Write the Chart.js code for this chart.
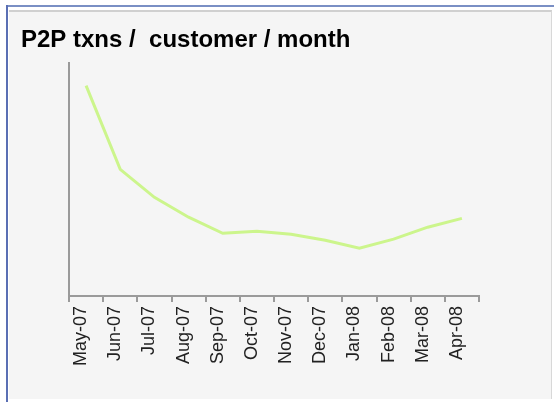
<!DOCTYPE html>
<html>
<head>
<meta charset="utf-8">
<script src="https://cdn.jsdelivr.net/npm/chart.js@4"></script>
<style>
  html, body { margin: 0; padding: 0; background: #ffffff; }
  #wrap { position: relative; width: 554px; height: 402px; overflow: hidden; }
  #blueTop { position: absolute; left: 6px; top: 5px; width: 548px; height: 2px; background: #7a8fc4; }
  #blueLeft { position: absolute; left: 6px; top: 5px; width: 2px; height: 397px; background: #5a6fb4; }
  #panel { position: absolute; left: 9px; top: 10px; width: 543px; height: 389px; background: #f5f5f5;
           border-top: 2px solid #d0d0d0; border-right: 1px solid #d8d8d8; box-sizing: border-box; }
  #c { position: absolute; left: 0; top: 0; }
</style>
</head>
<body>
<div id="wrap">
  <div id="panel"></div>
  <div id="blueTop"></div>
  <div id="blueLeft"></div>
  <canvas id="c" width="554" height="402"></canvas>
</div>
<script>
const categories = ["May-07","Jun-07","Jul-07","Aug-07","Sep-07","Oct-07","Nov-07","Dec-07","Jan-08","Feb-08","Mar-08","Apr-08"];
const txnsPerCustomer = [9.02, 5.43, 4.23, 3.38, 2.69, 2.78, 2.65, 2.39, 2.05, 2.44, 2.95, 3.33];
const chartTitle = "P2P txns /  customer / month";

new Chart(document.getElementById('c'), {
  type: 'line',
  data: {
    labels: categories,
    datasets: [{
      data: txnsPerCustomer,
      borderColor: '#ccf58c',
      borderWidth: 3,
      pointRadius: 0,
      pointHoverRadius: 0,
      tension: 0,
      fill: false
    }]
  },
  options: {
    responsive: false,
    animation: false,
    layout: { padding: { left: 21, right: 75, top: 0, bottom: 0 } },
    plugins: {
      legend: { display: false },
      tooltip: { enabled: false },
      title: {
        display: true,
        text: chartTitle,
        align: 'start',
        color: '#000000',
        font: { family: 'Liberation Sans, Arial, sans-serif', size: 24, weight: 'bold', lineHeight: 1.2 },
        padding: { top: 26, bottom: 8 }
      }
    },
    scales: {
      x: {
        offset: true,
        grid: { display: true, drawOnChartArea: false, drawTicks: true, tickLength: 6, color: '#9a9a9a', lineWidth: 2, offset: true },
        border: { display: true, color: '#9a9a9a', width: 2 },
        ticks: {
          autoSkip: false,
          maxRotation: 90,
          minRotation: 90,
          padding: 4,
          labelOffset: -5,
          color: '#222222',
          font: { family: 'Liberation Sans, Arial, sans-serif', size: 18 }
        },
        afterFit: (s) => { s.height = 106; }
      },
      y: {
        min: 0,
        max: 10,
        grid: { display: false, drawTicks: false },
        border: { display: true, color: '#9a9a9a', width: 2 },
        ticks: { display: false },
        afterFit: (s) => { s.width = 48; }
      }
    }
  }
});
</script>
</body>
</html>
